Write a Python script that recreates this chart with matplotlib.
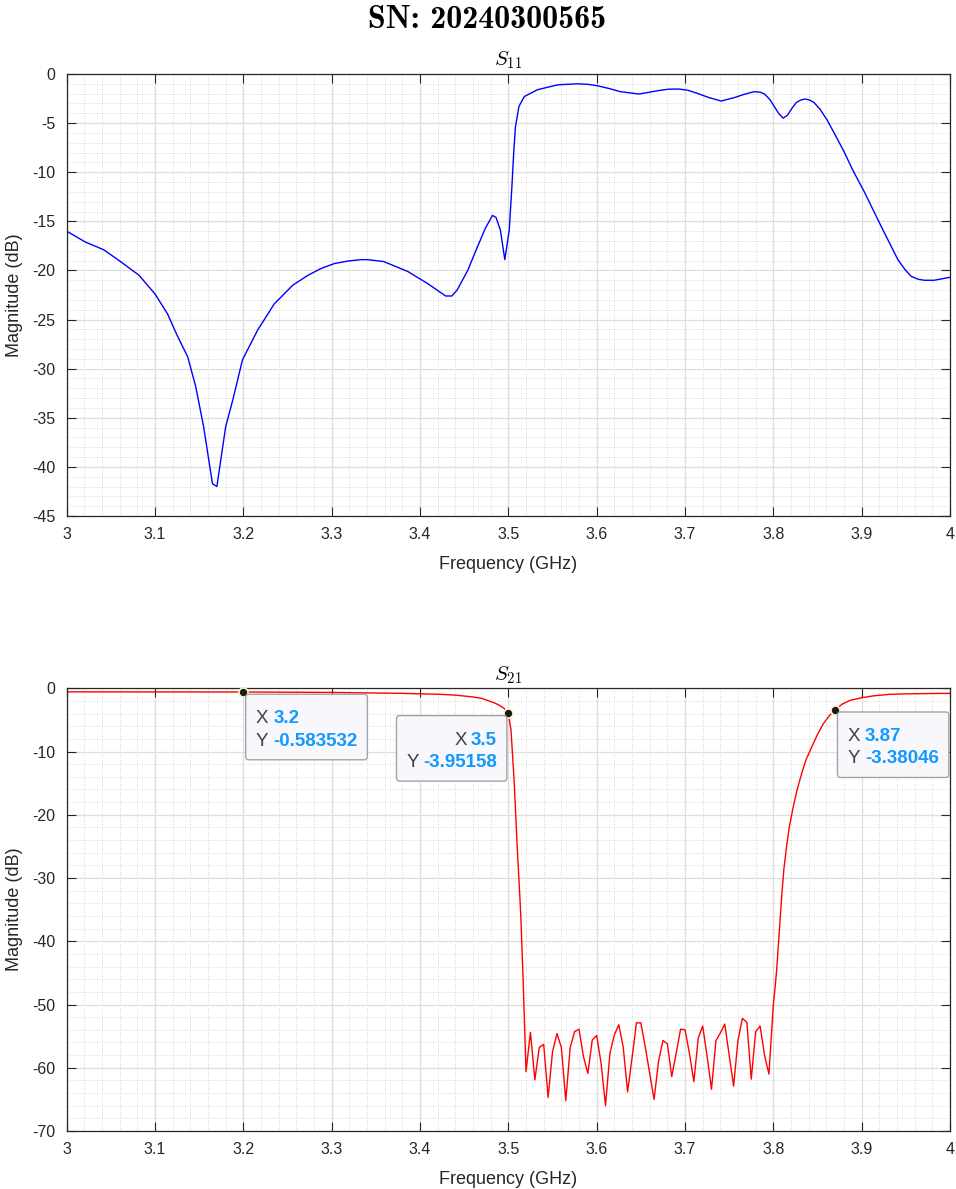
import matplotlib
matplotlib.use("Agg")
import matplotlib.pyplot as plt
from matplotlib.ticker import MultipleLocator, FuncFormatter
from matplotlib.patches import FancyBboxPatch

plt.rcParams['font.family'] = ['Liberation Sans', 'DejaVu Sans']
plt.rcParams['mathtext.fontset'] = 'cm'
plt.rcParams['axes.unicode_minus'] = False

# ---------------- data ----------------
s11_freq = [3.000, 3.021, 3.042, 3.061, 3.082, 3.100, 3.114, 3.125, 3.137, 3.146,
            3.155, 3.165, 3.170, 3.180, 3.188, 3.199, 3.216, 3.235, 3.256, 3.273,
            3.288, 3.303, 3.318, 3.333, 3.341, 3.359, 3.386, 3.408, 3.429, 3.436,
            3.442, 3.454, 3.465, 3.474, 3.482, 3.486, 3.491, 3.496, 3.501, 3.504,
            3.506, 3.508, 3.512, 3.518, 3.533, 3.556, 3.578, 3.590, 3.601, 3.615,
            3.627, 3.648, 3.660, 3.669, 3.681, 3.693, 3.703, 3.714, 3.727, 3.741,
            3.756, 3.766, 3.778, 3.785, 3.790, 3.796, 3.801, 3.806, 3.811, 3.816,
            3.821, 3.826, 3.831, 3.836, 3.841, 3.846, 3.853, 3.861, 3.870, 3.880,
            3.890, 3.903, 3.922, 3.941, 3.949, 3.956, 3.964, 3.971, 3.982, 4.000]
s11_db = [-16.0, -17.1, -17.9, -19.1, -20.5, -22.4, -24.4, -26.6, -28.8, -31.8,
          -35.9, -41.7, -42.0, -35.9, -33.2, -29.1, -26.1, -23.4, -21.5, -20.5,
          -19.8, -19.3, -19.05, -18.9, -18.9, -19.1, -20.1, -21.3, -22.6, -22.6,
          -22.0, -20.0, -17.6, -15.7, -14.4, -14.6, -15.9, -18.9, -15.9, -11.5,
          -8.1, -5.4, -3.3, -2.3, -1.6, -1.1, -1.0, -1.05, -1.2, -1.5,
          -1.8, -2.04, -1.85, -1.7, -1.55, -1.53, -1.65, -1.97, -2.4, -2.75,
          -2.4, -2.1, -1.8, -1.85, -2.04, -2.6, -3.3, -4.0, -4.5, -4.2,
          -3.5, -2.9, -2.65, -2.55, -2.65, -2.9, -3.6, -4.7, -6.2, -7.9,
          -9.8, -12.0, -15.5, -18.9, -19.9, -20.6, -20.9, -21.0, -21.0, -20.7]

s21_freq = [3.000, 3.100, 3.200, 3.300, 3.380, 3.422, 3.440, 3.460, 3.470, 3.478,
            3.485, 3.490, 3.495, 3.500,
            3.503, 3.5065, 3.510, 3.514, 3.5167,
            3.520, 3.525, 3.530, 3.535, 3.540, 3.545, 3.550, 3.555, 3.560, 3.565,
            3.570, 3.575, 3.580, 3.585, 3.590, 3.595, 3.600, 3.605, 3.610, 3.615,
            3.620, 3.625, 3.630, 3.635, 3.640, 3.645, 3.650, 3.655, 3.660, 3.665,
            3.670, 3.675, 3.680, 3.685, 3.690, 3.695, 3.700, 3.705, 3.710, 3.715,
            3.720, 3.725, 3.730, 3.735, 3.740, 3.745, 3.750, 3.755, 3.760, 3.765,
            3.770, 3.775, 3.780, 3.785, 3.790, 3.795, 3.800,
            3.8015, 3.8038, 3.806, 3.8094, 3.812, 3.815, 3.818, 3.8226, 3.827,
            3.832, 3.837, 3.8434, 3.850, 3.8566, 3.863, 3.870, 3.878, 3.887,
            3.900, 3.913, 3.932, 3.950, 3.975, 4.000]
s21_db = [-0.56, -0.57, -0.583532, -0.65, -0.8, -0.95, -1.08, -1.37, -1.6, -2.0,
          -2.35, -2.7, -3.15, -3.95158,
          -6.6, -14.5, -25.0, -35.6, -46.0,
          -60.6, -54.4, -61.9, -56.8, -56.3, -64.7, -57.5, -54.6, -56.8, -65.2,
          -56.8, -54.3, -53.9, -58.2, -60.9, -55.6, -54.9, -59.3, -66.0, -57.7,
          -54.8, -53.2, -56.7, -63.8, -58.5, -52.9, -52.9, -56.7, -60.9, -65.0,
          -59.0, -55.7, -56.2, -61.4, -57.7, -53.9, -54.0, -57.7, -62.2, -55.3,
          -53.4, -58.2, -63.4, -55.7, -54.5, -53.1, -58.0, -62.9, -55.6, -52.2,
          -52.8, -61.8, -54.3, -53.4, -58.0, -61.0, -50.0,
          -48.0, -44.5, -40.0, -33.0, -28.5, -25.0, -22.0, -18.7, -16.0,
          -13.5, -11.3, -9.3, -7.3, -5.6, -4.4, -3.38046, -2.5, -1.9,
          -1.5, -1.2, -0.95, -0.88, -0.83, -0.8]

# data tips: frequency, box side relative to marker, printed value text
tip_freqs = [3.2, 3.5, 3.87]
tip_sides = ['right', 'left', 'right']
tip_xtext = ['3.2', '3.5', '3.87']
tip_ytext = ['-0.583532', '-3.95158', '-3.38046']

x_ticks = [3.0, 3.1, 3.2, 3.3, 3.4, 3.5, 3.6, 3.7, 3.8, 3.9, 4.0]

# ---------------- figure ----------------
W, H = 956, 1189
fig = plt.figure(figsize=(W / 100, H / 100), dpi=100)
fig.patch.set_facecolor('white')

L, R = 66.7, 950.0
ax1 = fig.add_axes([L / W, 1 - 516 / H, (R - L) / W, (516 - 74) / H])
ax2 = fig.add_axes([L / W, 1 - 1131 / H, (R - L) / W, (1131 - 688.3) / H])

AX_COLOR = '#262626'


def style_axes(ax, ylim, ymajor, yminor):
    ax.set_xlim(3, 4)
    ax.set_ylim(*ylim)
    ax.set_xticks(x_ticks)
    ax.xaxis.set_major_formatter(FuncFormatter(lambda v, p: f'{v:g}'))
    ax.yaxis.set_major_locator(MultipleLocator(ymajor))
    ax.yaxis.set_major_formatter(FuncFormatter(lambda v, p: f'{v:g}'))
    ax.xaxis.set_minor_locator(MultipleLocator(0.02))
    ax.yaxis.set_minor_locator(MultipleLocator(yminor))
    ax.grid(True, which='major', color='#dedede', linewidth=0.9, linestyle='-')
    ax.grid(True, which='minor', color='#c8c8c8', linewidth=0.6, linestyle=(0, (1, 2.2)))
    ax.set_axisbelow(True)
    for s in ax.spines.values():
        s.set_color(AX_COLOR)
        s.set_linewidth(0.9)
    ax.tick_params(which='major', direction='in', length=6.5, width=0.8,
                   color=AX_COLOR, top=True, right=True, labelsize=11.5,
                   labelcolor=AX_COLOR)
    ax.tick_params(axis='x', which='major', pad=8)
    ax.tick_params(axis='y', which='major', pad=8)
    ax.tick_params(which='minor', length=0, top=True, right=True)
    ax.set_xlabel('Frequency (GHz)', fontsize=13, color=AX_COLOR, labelpad=10)
    ax.set_ylabel('Magnitude (dB)', fontsize=13, color=AX_COLOR, labelpad=7)


style_axes(ax1, (-45, 0), 5, 1)
style_axes(ax2, (-70, 0), 10, 2)

ax1.plot(s11_freq, s11_db, color='#0000ff', linewidth=1.0)
ax2.plot(s21_freq, s21_db, color='#ff0000', linewidth=1.0)

ax1.set_title(r'$S_{11}$', fontsize=15, pad=6.5, color='black')
ax2.set_title(r'$S_{21}$', fontsize=15, pad=6, color='black')

fig.text(487.5 / W, 1 - 19 / H, 'SN: 20240300565', family='cmb10', fontsize=23,
         ha='center', va='center', color='black')

# ---------------- data tips ----------------
renderer = fig.canvas.get_renderer()
TIP_FS = 13.5
LABEL_COLOR = '#404040'
VALUE_COLOR = '#1299ff'


def fig_xy(px, py):
    return px / W, py / H


for f, side, xs, ys in zip(tip_freqs, tip_sides, tip_xtext, tip_ytext):
    i = min(range(len(s21_freq)), key=lambda k: abs(s21_freq[k] - f))
    fx, fy = s21_freq[i], s21_db[i]
    mx, my = ax2.transData.transform((fx, fy))

    top = my - 2.3
    base1 = top - 29
    base2 = top - 51.5
    bottom = top - 65.5

    texts = []
    if side == 'right':
        left = mx + 2.3
        for lab, val, b in (('X', xs, base1), ('Y', ys, base2)):
            fig.text(*fig_xy(left + 10, b), lab, fontsize=TIP_FS, color=LABEL_COLOR,
                     ha='left', va='baseline', zorder=6)
            t2 = fig.text(*fig_xy(left + 27.5, b), val, fontsize=TIP_FS, color=VALUE_COLOR,
                          fontweight='bold', ha='left', va='baseline', zorder=6)
            texts.append(t2)
        right = max(t.get_window_extent(renderer).x1 for t in texts) + 10
    else:
        right = mx - 1.5
        lefts = []
        for lab, val, b in (('X', xs, base1), ('Y', ys, base2)):
            t2 = fig.text(*fig_xy(right - 10, b), val, fontsize=TIP_FS, color=VALUE_COLOR,
                          fontweight='bold', ha='right', va='baseline', zorder=6)
            vx0 = t2.get_window_extent(renderer).x0
            t1 = fig.text(*fig_xy(vx0 - 4, b), lab, fontsize=TIP_FS, color=LABEL_COLOR,
                          ha='right', va='baseline', zorder=6)
            lefts.append(t1.get_window_extent(renderer).x0)
        left = min(lefts) - 10

    box = FancyBboxPatch(fig_xy(left, bottom), (right - left) / W, (top - bottom) / H,
                         boxstyle='round,pad=0,rounding_size=0.003',
                         transform=fig.transFigure, facecolor='#f8f8fc',
                         edgecolor='#a3a3a3', linewidth=1.0, zorder=5)
    fig.add_artist(box)

    ax2.plot([fx], [fy], marker='o', markersize=6.5, markerfacecolor='#1a1a1a',
             markeredgecolor='#fbf7c8', markeredgewidth=1.2, zorder=7, clip_on=False)

fig.savefig('out.png', dpi=100, facecolor='white')
